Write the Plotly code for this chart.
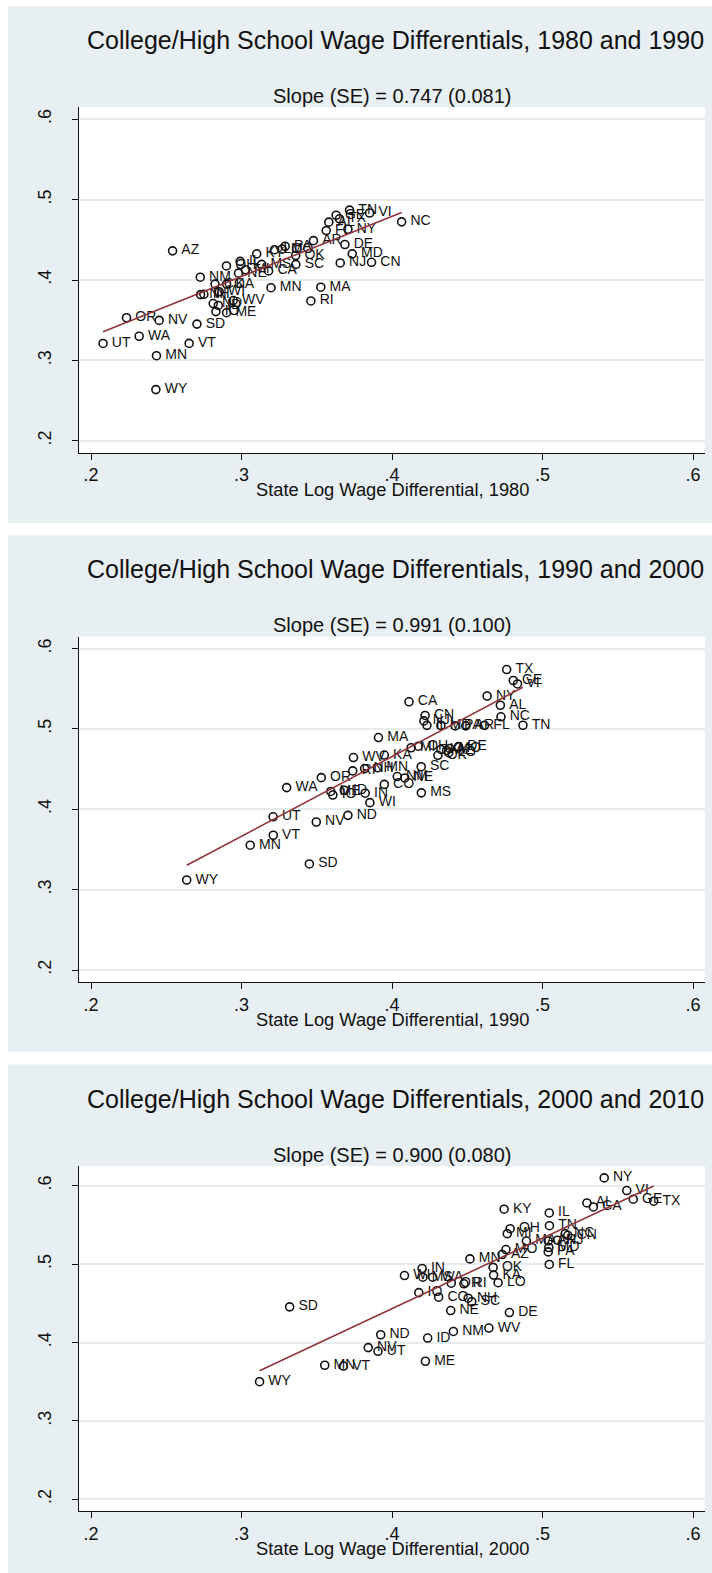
import numpy as np
import plotly.graph_objects as go

# State college/high-school log wage differentials by census year
states = ["UT", "WA", "OR", "NV", "MN", "WY", "SD", "VT", "AZ", "NM",
          "MN", "MA", "RI", "NC", "CN", "NJ", "MD", "DE", "NY", "VI",
          "TN", "TX", "GE", "AL", "FL", "AR", "PA", "IL", "KY", "SC",
          "MS", "CA", "NE", "OK", "KA", "LO", "MI", "OH", "MO", "IN",
          "WI", "ND", "CO", "NH", "IO", "ME", "ID", "WV"]
w1980 = [0.208, 0.232, 0.2236, 0.2453, 0.2435, 0.2431, 0.2704, 0.2652, 0.2542, 0.2726,
         0.3196, 0.3527, 0.3461, 0.4064, 0.3864, 0.3656, 0.3736, 0.3687, 0.3707, 0.3851,
         0.3718, 0.3651, 0.3629, 0.358, 0.3563, 0.3478, 0.329, 0.2991, 0.3101, 0.3361,
         0.3134, 0.318, 0.298, 0.336, 0.2901, 0.322, 0.3026, 0.290, 0.327, 0.2750,
         0.2852, 0.2812, 0.2824, 0.2728, 0.283, 0.2901, 0.2846, 0.2945]
w1990 = [0.321, 0.330, 0.3530, 0.3497, 0.3058, 0.2636, 0.3451, 0.3211, 0.4363, 0.4035,
         0.3904, 0.391, 0.3739, 0.4724, 0.422, 0.4212, 0.4325, 0.4442, 0.4632, 0.4834,
         0.4870, 0.4762, 0.4806, 0.4720, 0.4615, 0.4490, 0.4420, 0.4232, 0.4325, 0.4194,
         0.4195, 0.4113, 0.4085, 0.4305, 0.3949, 0.4377, 0.4127, 0.4175, 0.4384, 0.3822,
         0.3853, 0.3707, 0.3949, 0.3818, 0.3607, 0.3593, 0.3683, 0.3744]
w2000 = [0.3907, 0.427, 0.4394, 0.3842, 0.3553, 0.312, 0.332, 0.3677, 0.4732, 0.4408,
         0.4518, 0.4893, 0.4478, 0.5151, 0.5168, 0.510, 0.5042, 0.4780, 0.5410, 0.5560,
         0.5046, 0.5739, 0.5603, 0.5295, 0.5045, 0.5038, 0.5038, 0.5045, 0.4745, 0.4530,
         0.4205, 0.5338, 0.4390, 0.4672, 0.4675, 0.4705, 0.4766, 0.4785, 0.4757, 0.4200,
         0.4083, 0.3925, 0.4310, 0.4506, 0.4178, 0.4222, 0.4237, 0.4644]
w2010 = [0.3888, 0.4833, 0.4757, 0.3935, 0.371, 0.350, 0.4455, 0.370, 0.5123, 0.4141,
         0.5067, 0.5296, 0.4749, 0.5389, 0.5368, 0.5305, 0.5212, 0.4382, 0.6100, 0.5939,
         0.5490, 0.5803, 0.5828, 0.578, 0.4996, 0.5296, 0.5156, 0.5653, 0.5701, 0.452,
         0.4833, 0.5729, 0.4408, 0.4958, 0.486, 0.4763, 0.5389, 0.5452, 0.5186, 0.4945,
         0.4854, 0.4099, 0.4578, 0.4565, 0.4636, 0.3761, 0.4057, 0.4185]

years = [1980, 1990, 2000, 2010]
slope_est = [0.747, 0.991, 0.900]
slope_se = [0.081, 0.100, 0.080]
fit_intercept = [0.1803, 0.0692, 0.0832]
tick_vals = [0.2, 0.3, 0.4, 0.5, 0.6]
tick_text = [".2", ".3", ".4", ".5", ".6"]

series = [w1980, w1990, w2000, w2010]

W, H = 712, 1573
STEP = 529.3                 # vertical distance between stacked panels (px)
PLOT_L, PLOT_R = 79, 705     # plot region, px from left
PLOT_T, PLOT_B = 107.3, 452.7
PAD = 12                     # inner plot-region margin (px)
BG = "#e8eff2"
GRID = "#e4ecef"
INK = "#111111"
FIT = "#90353b"
FONT = "Liberation Sans, Arial, Helvetica, sans-serif"


def py(v):
    return 1 - v / H


def padded(lo, hi, span_px):
    k = (span_px - 2 * PAD) / (hi - lo)
    return [lo - PAD / k, hi + PAD / k]


fig = go.Figure()
shapes, annotations = [], []
layout_axes = {}
marker_text = ["\u2009" + s for s in states]

for k in range(3):
    off = k * STEP
    xs = np.array(series[k])
    ys = np.array(series[k + 1])
    sfx = "" if k == 0 else str(k + 1)

    # grey-blue graph region, white plot region
    shapes.append(dict(type="rect", xref="paper", yref="paper", layer="below",
                       x0=8 / W, x1=1.0, y0=py(523 + off), y1=py(6 + off),
                       fillcolor=BG, line_width=0))
    shapes.append(dict(type="rect", xref="paper", yref="paper", layer="below",
                       x0=PLOT_L / W, x1=PLOT_R / W,
                       y0=py(PLOT_B + off), y1=py(PLOT_T + off),
                       fillcolor="white", line_width=0))

    fig.add_trace(go.Scatter(
        x=xs, y=ys, mode="markers+text", text=marker_text,
        textposition="middle right", cliponaxis=False,
        textfont=dict(family=FONT, size=14, color=INK),
        marker=dict(symbol="circle-open", size=8, color=INK, line=dict(width=1.6)),
        xaxis="x" + sfx, yaxis="y" + sfx, showlegend=False, hoverinfo="skip"))

    # linear fit over the observed x range
    b = slope_est[k]
    a = fit_intercept[k]
    lx = np.array([xs.min(), xs.max()])
    fig.add_trace(go.Scatter(
        x=lx, y=a + b * lx, mode="lines", line=dict(color=FIT, width=1.6),
        xaxis="x" + sfx, yaxis="y" + sfx, showlegend=False, hoverinfo="skip"))

    xr = padded(min(tick_vals[0], xs.min()), max(tick_vals[-1], xs.max()), PLOT_R - PLOT_L)
    yr = padded(min(tick_vals[0], ys.min()), max(tick_vals[-1], ys.max()), PLOT_B - PLOT_T)

    layout_axes["xaxis" + sfx] = dict(
        domain=[PLOT_L / W, PLOT_R / W], range=xr, anchor="y" + sfx,
        tickvals=tick_vals, ticktext=tick_text, ticks="outside", ticklen=6,
        tickcolor=INK, tickwidth=1, showline=True, linecolor=INK, linewidth=1,
        showgrid=False, zeroline=False,
        tickfont=dict(family=FONT, size=18, color=INK))
    layout_axes["yaxis" + sfx] = dict(
        domain=[py(PLOT_B + off), py(PLOT_T + off)], range=yr, anchor="x" + sfx,
        tickvals=tick_vals, ticktext=tick_text, tickangle=-90, ticks="outside",
        ticklen=6, tickcolor=INK, tickwidth=1, showline=True, linecolor=INK,
        linewidth=1, showgrid=True, gridcolor=GRID, gridwidth=1.5, zeroline=False,
        ticklabelstandoff=14,
        tickfont=dict(family=FONT, size=18, color=INK))

    cx = (PLOT_L + PLOT_R) / 2 / W
    annotations.append(dict(
        text=f"College/High School Wage Differentials, {years[k]} and {years[k + 1]}",
        x=395.5 / W, y=py(40 + off), xref="paper", yref="paper",
        showarrow=False, xanchor="center", yanchor="middle",
        font=dict(family=FONT, size=25, color=INK)))
    annotations.append(dict(
        text=f"Slope (SE) = {slope_est[k]:.3f} ({slope_se[k]:.3f})",
        x=cx, y=py(96 + off), xref="paper", yref="paper", showarrow=False,
        xanchor="center", yanchor="middle", font=dict(family=FONT, size=20, color=INK)))
    annotations.append(dict(
        text=f"State Log Wage Differential, {years[k]}",
        x=cx, y=py(490 + off), xref="paper", yref="paper", showarrow=False,
        xanchor="center", yanchor="middle", font=dict(family=FONT, size=18.3, color=INK)))

fig.update_layout(
    width=W, height=H, margin=dict(l=0, r=0, t=0, b=0),
    paper_bgcolor="white", plot_bgcolor="rgba(0,0,0,0)",
    shapes=shapes, annotations=annotations, showlegend=False,
    **layout_axes)

fig.write_html("out.html")
